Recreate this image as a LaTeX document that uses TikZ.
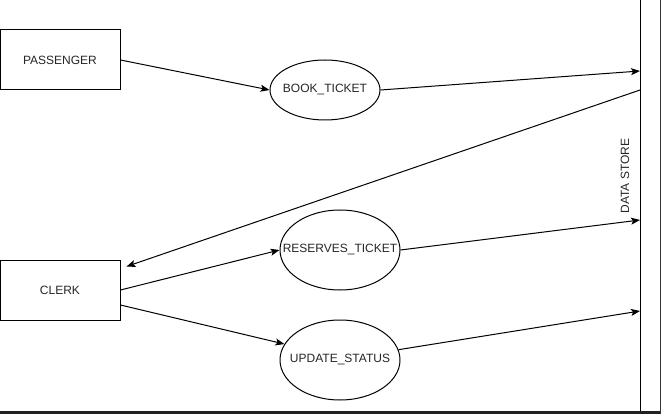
\documentclass[tikz,border=0pt]{standalone}
\usepackage{fontspec}
\setmainfont{Liberation Sans}
\usetikzlibrary{shapes.geometric,arrows.meta,calc}
\begin{document}
\begin{tikzpicture}[x=1pt,y=-1pt,
  every node/.style={font=\fontsize{12}{14}\selectfont, text=black!85},
  entity/.style={draw, line width=1pt, minimum width=120pt, minimum height=60pt, inner sep=0pt},
  process/.style={draw, ellipse, line width=1pt, inner sep=0pt},
  flow/.style={line width=1pt, -{Stealth[length=9pt,width=7pt,inset=2pt]}},
  storeline/.style={line width=1pt}]
\useasboundingbox (0,0) rectangle (661,414);
\fill[white] (0,0) rectangle (661,414);
% frame edges of screenshot
\fill[black!87] (0,410.5) rectangle (661,414);
\fill[black!80] (660,0) rectangle (661,414);

\node[entity] (pass) at (60,60) {PASSENGER};
\node[entity] (clerk) at (60,290) {CLERK};
\node[process, minimum width=110pt, minimum height=60pt] (book) at (325,90) {\makebox[0pt]{BOOK\_TICKET}};
\node[process, minimum width=120pt, minimum height=80pt] (res) at (340,250) {\makebox[0pt]{RESERVES\_TICKET}};
\node[process, minimum width=120pt, minimum height=80pt] (upd) at (340,360) {\makebox[0pt]{UPDATE\_STATUS}};

\coordinate (dstop) at (640,0);
\coordinate (dsbot) at (640,410.5);
\coordinate (ds1) at (640,71);
\coordinate (ds2) at (640,90);
\coordinate (ds3) at (640,220);
\coordinate (ds4) at (640,311);
\draw[storeline] (dstop) -- (dsbot);
\node[rotate=90] (dslabel) at (625,176) {DATA STORE};

\draw[flow] (pass.east) -- (book.west);
\draw[flow] (book.east) -- (ds1);
\draw[flow] (ds2) -- ($(clerk.north east)+(6,7)$);
\draw[flow] (clerk.east) -- (res.west);
\draw[flow] ($(clerk.east)+(0,15)$) -- (upd.164);
\draw[flow] (res.east) -- (ds3);
\draw[flow] (upd.10) -- (ds4);
\end{tikzpicture}
\end{document}
